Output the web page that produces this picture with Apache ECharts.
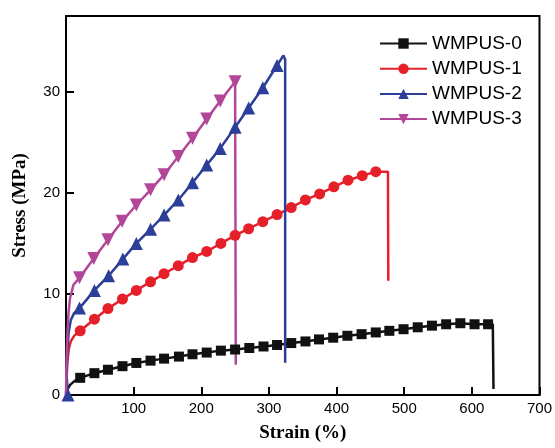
<!DOCTYPE html>
<html>
<head>
<meta charset="utf-8">
<title>Stress-strain curves</title>
<script src="https://cdn.jsdelivr.net/npm/echarts@6/dist/echarts.min.js"></script>
<style>
  html, body { margin: 0; padding: 0; background: #fff; }
  #chart { width: 555px; height: 448px; }
</style>
</head>
<body>
<div id="chart"></div>
<script>
// Tensile stress (MPa) against strain (%) for the four WMPUS samples.
// Each curve: a steep initial rise, the marked points, and the break.
const seriesNames = ['WMPUS-0', 'WMPUS-1', 'WMPUS-2', 'WMPUS-3'];
const xTicks = [0, 100, 200, 300, 400, 500, 600, 700];
const yTicks = [0, 10, 20, 30];

const wmpus0Head = [[0, 0], [1.5, 0.35], [3, 0.65], [6, 1.0], [12, 1.35]];
const wmpus0Marks = [[21, 1.7], [42, 2.16], [62, 2.5], [83.5, 2.85], [104, 3.17], [125, 3.4],
  [145, 3.6], [167, 3.8], [187, 4.03], [208, 4.2], [229, 4.39], [250, 4.5], [271, 4.65],
  [292, 4.8], [312, 4.95], [333, 5.14], [354, 5.3], [374, 5.5], [395, 5.67], [416, 5.86],
  [437, 6.02], [458, 6.19], [478, 6.35], [499, 6.51], [520, 6.7], [541, 6.86], [562, 7.0],
  [583, 7.1], [604, 7.0], [624, 7.0]];
const wmpus0Tail = [[631, 7.0], [632, 0.6]];

const wmpus1Head = [[0, 0], [0.8, 1.5], [2, 3.2], [4, 4.5], [7, 5.3], [12, 5.85]];
const wmpus1Marks = [[21, 6.35], [42, 7.5], [62, 8.55], [83.5, 9.5], [104, 10.35], [125, 11.2],
  [145, 12.0], [166, 12.8], [187, 13.6], [208, 14.2], [229, 15.0], [250, 15.8], [270, 16.45],
  [291, 17.15], [312, 17.85], [333, 18.55], [354, 19.3], [375, 19.9], [396, 20.6],
  [417, 21.25], [438, 21.7], [458, 22.1]];
const wmpus1Tail = [[476, 22.1], [476.5, 11.3]];

const wmpus2Head = [[0, 0], [0.8, 2.0], [2, 4.3], [4, 6.2], [7, 7.4], [12, 8.1]];
const wmpus2Marks = [[20, 8.6], [42, 10.35], [63, 11.8], [84, 13.45], [104, 15.0], [125, 16.4],
  [145, 17.8], [166, 19.3], [187, 21.0], [208, 22.75], [228, 24.4], [250, 26.5], [270, 28.4],
  [291, 30.4], [312, 32.6]];
const wmpus2Tail = [[321.5, 33.6], [324, 33.2], [324, 3.2]];

const wmpus3Head = [[0, 0], [0.7, 3.0], [1.8, 5.6], [3.5, 7.9], [6, 9.6], [11, 10.9]];
const wmpus3Marks = [[20, 11.6], [41, 13.5], [62, 15.35], [83, 17.2], [104, 18.8], [125, 20.3],
  [145, 21.8], [166, 23.6], [187, 25.4], [208, 27.3], [228, 29.1], [250, 31.0]];
const wmpus3Tail = [[251, 31.0], [251, 3.0]];

const plain = p => ({ value: p, symbol: 'none' });
function curve(head, marks, tail) {
  return head.map(plain).concat(marks.map(p => ({ value: p })), tail.map(plain));
}

const colors = ['#111111', '#e5202a', '#2b3e98', '#b2479a'];
const symbols = ['rect', 'circle', 'triangle', 'triangle'];
const symbolSizes = [10, 11, 13, 13];
const rotations = [0, 0, 0, 180];
const curves = [
  curve(wmpus0Head, wmpus0Marks, wmpus0Tail),
  curve(wmpus1Head, wmpus1Marks, wmpus1Tail),
  // the blue curve also carries a marker at its start
  [{ value: [3, 0] }].concat(curve(wmpus2Head.slice(1), wmpus2Marks, wmpus2Tail)),
  curve(wmpus3Head, wmpus3Marks, wmpus3Tail)
];

const chart = echarts.init(document.getElementById('chart'), null, { renderer: 'canvas' });
chart.setOption({
  animation: false,
  backgroundColor: '#fff',
  grid: {
    left: 66, right: 15, top: 16, bottom: 50,
    show: true, borderColor: '#000', borderWidth: 2, backgroundColor: 'transparent'
  },
  legend: {
    orient: 'vertical',
    left: 374, top: 29,
    itemWidth: 47, itemHeight: 13, itemGap: 6.2,
    textStyle: { fontFamily: 'Liberation Sans', fontSize: 19, color: '#000', lineHeight: 19 },
    data: seriesNames
  },
  xAxis: {
    type: 'value',
    min: xTicks[0], max: xTicks[xTicks.length - 1], interval: 100,
    name: 'Strain (%)', nameLocation: 'middle', nameGap: 29,
    nameTextStyle: { fontFamily: 'Liberation Serif', fontWeight: 'bold', fontSize: 19, color: '#000' },
    axisLine: { show: true, lineStyle: { color: '#000', width: 2 } },
    axisTick: { show: true, inside: true, length: 8, lineStyle: { color: '#000', width: 2 } },
    axisLabel: {
      showMinLabel: false, margin: 6,
      fontFamily: 'Liberation Sans', fontSize: 15, color: '#000'
    },
    splitLine: { show: false }
  },
  yAxis: {
    type: 'value',
    min: yTicks[0], max: 37.5, interval: 10,
    name: 'Stress (MPa)', nameLocation: 'middle', nameGap: 36,
    nameTextStyle: { fontFamily: 'Liberation Serif', fontWeight: 'bold', fontSize: 19, color: '#000' },
    axisLine: { show: true, lineStyle: { color: '#000', width: 2 } },
    axisTick: { show: true, inside: true, length: 8, lineStyle: { color: '#000', width: 2 } },
    axisLabel: {
      showMaxLabel: false, margin: 6,
      fontFamily: 'Liberation Sans', fontSize: 15, color: '#000'
    },
    splitLine: { show: false }
  },
  series: seriesNames.map((name, i) => ({
    name,
    type: 'line',
    data: curves[i],
    color: colors[i],
    symbol: symbols[i],
    symbolSize: symbolSizes[i],
    symbolRotate: rotations[i],
    showSymbol: true,
    showAllSymbol: true,
    lineStyle: { width: 2.5, color: colors[i] },
    itemStyle: { color: colors[i] },
    emphasis: { disabled: true }
  }))
});
</script>
</body>
</html>
